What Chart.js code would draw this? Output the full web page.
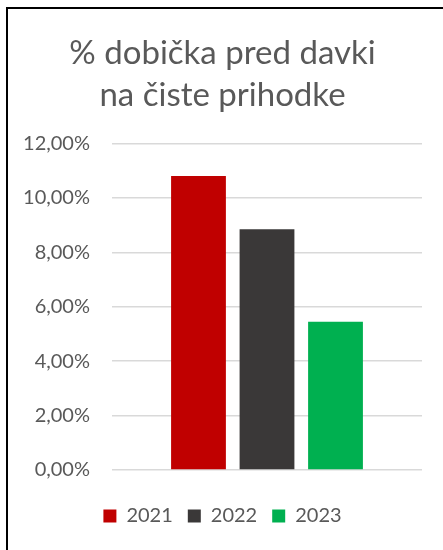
<!DOCTYPE html>
<html>
<head>
<meta charset="utf-8">
<script src="https://cdn.jsdelivr.net/npm/chart.js@4"></script>
<style>
  body { margin: 0; background: #fff; overflow: hidden; }
  #frame { position: absolute; left: 6px; top: 7px; width: 600px; height: 700px;
           border-left: 2px solid #000; border-top: 2px solid #000; }
  #wrap { position: absolute; left: 0; top: 0; width: 443px; height: 550px; }
</style>
</head>
<body>
<div id="frame"></div>
<div id="wrap"><canvas id="dobicek"></canvas></div>
<script>
// podatki
const leta = ['2021', '2022', '2023'];
const dobicek = [10.81, 8.85, 5.45];
const barve = ['#C00000', '#3A3838', '#00B050'];
const yTicks = [0, 2, 4, 6, 8, 10, 12];

const besedilo = '#595959';
const pisava = 'Lato';

const datasets = leta.map((leto, i) => ({
  label: leto,
  data: [dobicek[i]],
  backgroundColor: barve[i],
  borderWidth: 0,
  categoryPercentage: 0.663,
  barPercentage: 0.8,
}));

new Chart(document.getElementById('dobicek'), {
  type: 'bar',
  data: {
    labels: [''],
    datasets: datasets
  },
  options: {
    responsive: true,
    maintainAspectRatio: false,
    animation: false,
    layout: {
      padding: { left: 23, right: 21, top: 33, bottom: 14 }
    },
    scales: {
      y: {
        min: 0,
        max: 12,
        afterBuildTicks: s => { s.ticks = yTicks.map(v => ({ value: v })); },
        afterFit: s => { s.width = 89; },
        border: { display: false },
        grid: { color: '#D9D9D9', lineWidth: 1.5, drawTicks: false },
        ticks: {
          color: besedilo,
          font: { family: pisava, size: 20 },
          padding: 22,
          callback: v => v.toFixed(2).replace('.', ',') + '%'
        }
      },
      x: {
        afterFit: s => { s.height = 21; },
        grid: { display: false },
        border: { display: false },
        ticks: { display: false }
      }
    },
    plugins: {
      title: {
        display: true,
        text: ['% dobička pred davki', 'na čiste prihodke'],
        color: besedilo,
        font: { family: pisava, size: 33, weight: 'normal', lineHeight: 1.25 },
        padding: { top: 0, bottom: 28 }
      },
      legend: {
        position: 'bottom',
        labels: {
          color: besedilo,
          font: { family: pisava, size: 20 },
          boxWidth: 13,
          boxHeight: 13,
          padding: 15
        }
      },
      tooltip: { enabled: false }
    }
  }
});
</script>
</body>
</html>
